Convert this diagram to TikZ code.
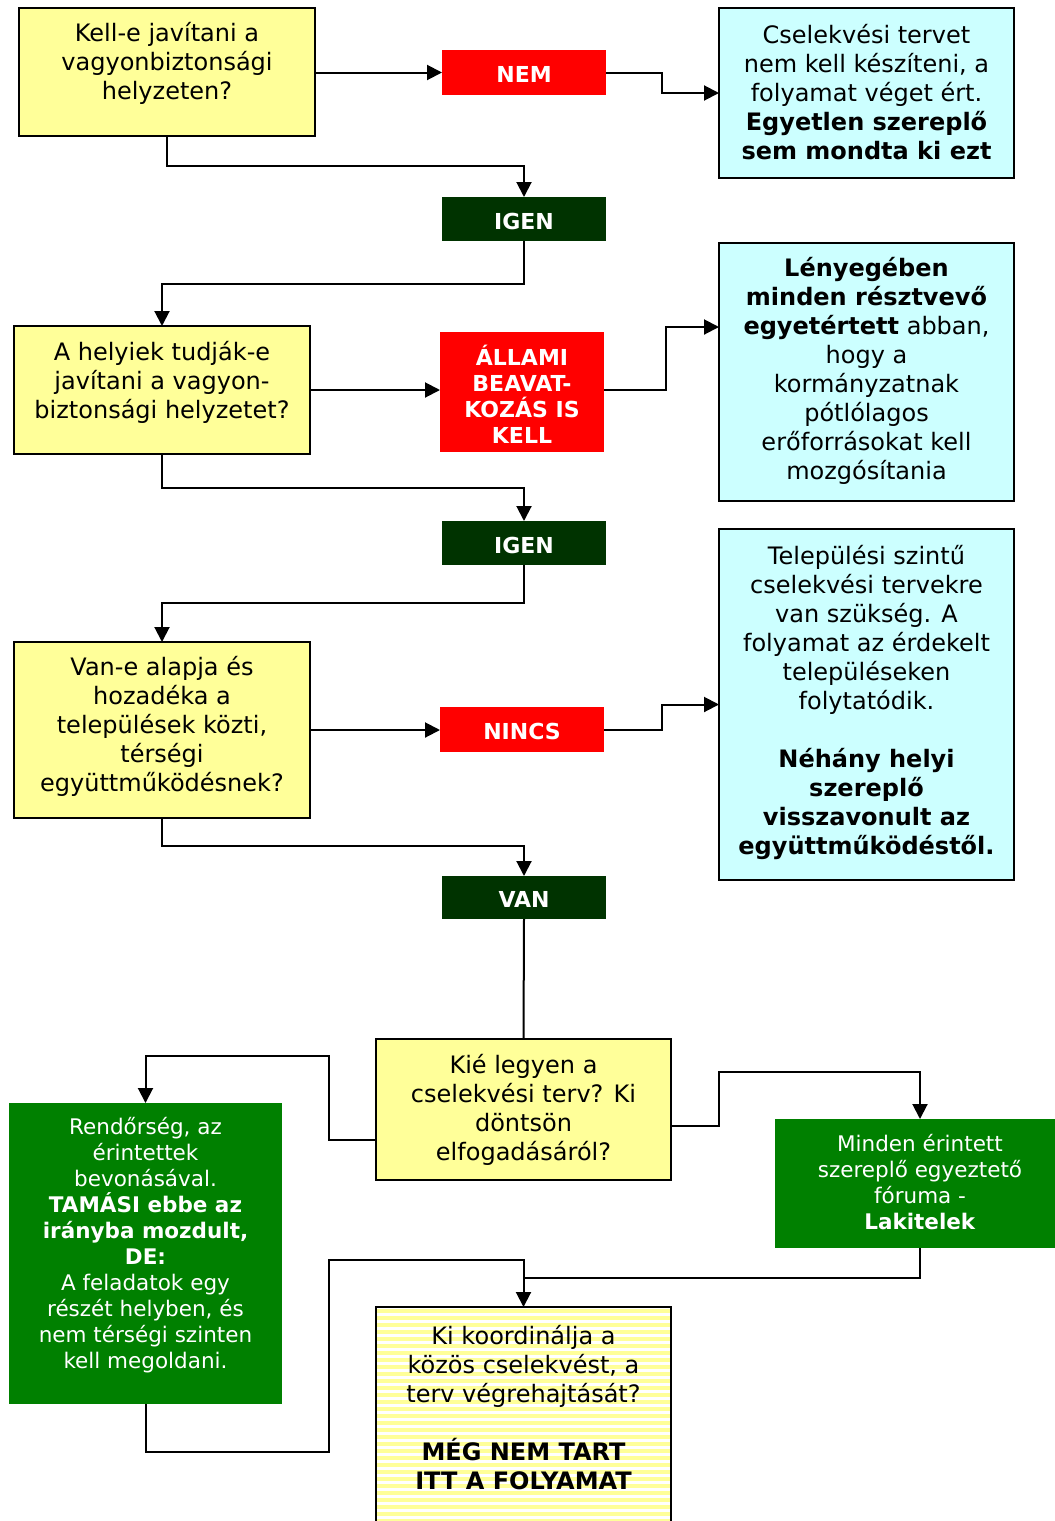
\documentclass[tikz,border=0pt]{standalone}
\usepackage{fontspec}
\setmainfont{DejaVu Sans}
\usetikzlibrary{arrows.meta,calc}

\definecolor{qyellow}{HTML}{FFFF99}
\definecolor{acyan}{HTML}{CCFFFF}
\definecolor{lred}{HTML}{FF0000}
\definecolor{dgreen}{HTML}{003300}
\definecolor{mgreen}{HTML}{008000}
\definecolor{stripe}{HTML}{FFFF99}

\newcommand{\maintext}{\fontsize{24}{29}\selectfont}
\newcommand{\smalltext}{\fontsize{21.5}{26}\selectfont}
\newcommand{\tagtext}{\fontsize{22}{26}\selectfont}

\tikzset{
  x=1pt, y=-1pt,
  frame/.style={inner sep=0pt, outer sep=0pt},
  ybox/.style={frame, draw=black, line width=2pt, fill=qyellow},
  cbox/.style={frame, draw=black, line width=2pt, fill=acyan},
  gbox/.style={frame, fill=mgreen},
  tag/.style={frame, text=white, font=\tagtext\bfseries, align=center},
  redtag/.style={tag, fill=lred},
  greentag/.style={tag, fill=dgreen},
  txt/.style={inner sep=0pt, align=center, font=\maintext},
  wtxt/.style={inner sep=0pt, align=center, font=\smalltext, text=white},
  link/.style={line width=2pt, line join=miter},
  arr/.style={link, -{Triangle[length=15pt,width=15pt]}},
}

\begin{document}
\begin{tikzpicture}
\useasboundingbox (0,0) rectangle (1055,1521);

% --- first question row ---
\node[ybox, minimum width=296, minimum height=128] (q1) at (167,72) {};
\node[txt] (q1t) at (167,63) {Kell-e javítani a\\vagyonbiztonsági\\helyzeten?};
\node[redtag, minimum width=164, minimum height=45] (nem) at (524,72.5) {};
\node[tag] (nemt) at (524,74) {NEM};
\node[cbox, minimum width=295, minimum height=170] (c1) at (866.5,93) {};
\node[txt] (c1t) at (866.5,92) {Cselekvési tervet\\nem kell készíteni, a\\folyamat véget ért.\\\textbf{Egyetlen szereplő}\\\textbf{sem mondta ki ezt}};
\node[greentag, minimum width=164, minimum height=44] (igen1) at (524,219) {};
\node[tag] (igen1t) at (524,221) {IGEN};

% --- second question row ---
\node[ybox, minimum width=296, minimum height=128] (q2) at (162,390) {};
\node[txt] (q2t) at (162,382) {A helyiek tudják-e\\javítani a vagyon-\\biztonsági helyzetet?};
\node[redtag, minimum width=164, minimum height=120] (allami) at (522,392) {};
\node[tag] (allamit) at (522,394) {ÁLLAMI\\BEAVAT-\\KOZÁS IS\\KELL};
\node[cbox, minimum width=295, minimum height=258] (c2) at (866.5,372) {};
\node[txt] (c2t) at (866.5,371) {\textbf{Lényegében}\\\textbf{minden résztvevő}\\\textbf{egyetértett} abban,\\hogy a\\kormányzatnak\\pótlólagos\\erőforrásokat kell\\mozgósítania};
\node[greentag, minimum width=164, minimum height=44] (igen2) at (524,543) {};
\node[tag] (igen2t) at (524,545) {IGEN};

% --- third question row ---
\node[ybox, minimum width=296, minimum height=176] (q3) at (162,730) {};
\node[txt] (q3t) at (162,726.5) {Van-e alapja és\\hozadéka a\\települések közti,\\térségi\\együttműködésnek?};
\node[redtag, minimum width=164, minimum height=45] (nincs) at (522,729.5) {};
\node[tag] (nincst) at (522,731) {NINCS};
\node[cbox, minimum width=295, minimum height=351] (c3) at (866.5,704.5) {};
\node[txt] (c3t) at (866.5,702) {Települési szintű\\cselekvési tervekre\\van szükség. A\\folyamat az érdekelt\\településeken\\folytatódik.\\[29pt]\textbf{Néhány helyi}\\\textbf{szereplő}\\\textbf{visszavonult az}\\\textbf{együttműködéstől.}};
\node[greentag, minimum width=164, minimum height=43] (van) at (524,897.5) {};
\node[tag] (vant) at (524,899) {VAN};

% --- decision on ownership ---
\node[ybox, minimum width=295, minimum height=141] (q4) at (523.5,1109.5) {};
\node[txt] (q4t) at (523.5,1109.5) {Kié legyen a\\cselekvési terv? Ki\\döntsön\\elfogadásáról?};

\node[gbox, minimum width=273, minimum height=301] (gl) at (145.5,1253.5) {};
\node[wtxt] (glt) at (145.5,1245) {Rendőrség, az\\érintettek\\bevonásával.\\\textbf{TAMÁSI ebbe az}\\\textbf{irányba mozdult,}\\\textbf{DE:}\\A feladatok egy\\részét helyben, és\\nem térségi szinten\\kell megoldani.};

\node[gbox, minimum width=280, minimum height=129] (gr) at (915,1183.5) {};
\node[wtxt] (grt) at (920,1182) {Minden érintett\\szereplő egyeztető\\fóruma -\\\textbf{Lakitelek}};

% --- final, striped box running off the lower edge ---
\node[frame, minimum width=295, minimum height=214] (fin) at (523.5,1414) {};
\fill[white] (fin.north west) rectangle (fin.south east);
\begin{scope}
  \clip (fin.north west) rectangle (fin.south east);
  \foreach \yy in {1309,1316,...,1521}
    \fill[stripe] (376,\yy) rectangle (671,\yy+4);
\end{scope}
\draw[link] (fin.south west) -- (fin.north west) -- (fin.north east) -- (fin.south east);
\node[txt] (fint) at (523.5,1407.5) {Ki koordinálja a\\közös cselekvést, a\\terv végrehajtását?\\[29pt]\textbf{MÉG NEM TART}\\\textbf{ITT A FOLYAMAT}};

% --- connectors ---
\draw[arr] (q1.east |- nem.west) -- (nem.west);
\draw[arr] (nem.east) -- ++(56,0) |- (c1.west);
\draw[arr] (q1.south) -- ++(0,30) -| (igen1.north);
\draw[arr] (igen1.south) -- ++(0,43) -| (q2.north);

\draw[arr] (q2.east) -- (q2.east -| allami.west);
\draw[arr] (allami.east |- q2.east) -- ++(62,0) |- ($(c2.north west)+(0,84)$);
\draw[arr] (q2.south) -- ++(0,34) -| (igen2.north);
\draw[arr] (igen2.south) -- ++(0,38) -| (q3.north);

\draw[arr] (q3.east) -- (q3.east -| nincs.west);
\draw[arr] (nincs.east) -- ++(58,0) |- (c3.west);
\draw[arr] (q3.south) -- ++(0,28) -| (van.north);
\draw[link] (van.south) -- (q4.north);

\draw[arr] (q4.west |- 0,1140) -- ++(-47,0) |- (gl.north |- 0,1056) -- (gl.north);
\draw[arr] (q4.east |- 0,1126) -- ++(48,0) |- (grt |- 0,1072) -- (grt |- gr.north);
\draw[link] (grt |- gr.south) |- (fin.north |- 0,1278);
\draw[arr] (gl.south) -- ++(0,48) -- ++(183,0) |- (fin.north |- 0,1260) -- (fin.north);
\end{tikzpicture}
\end{document}
